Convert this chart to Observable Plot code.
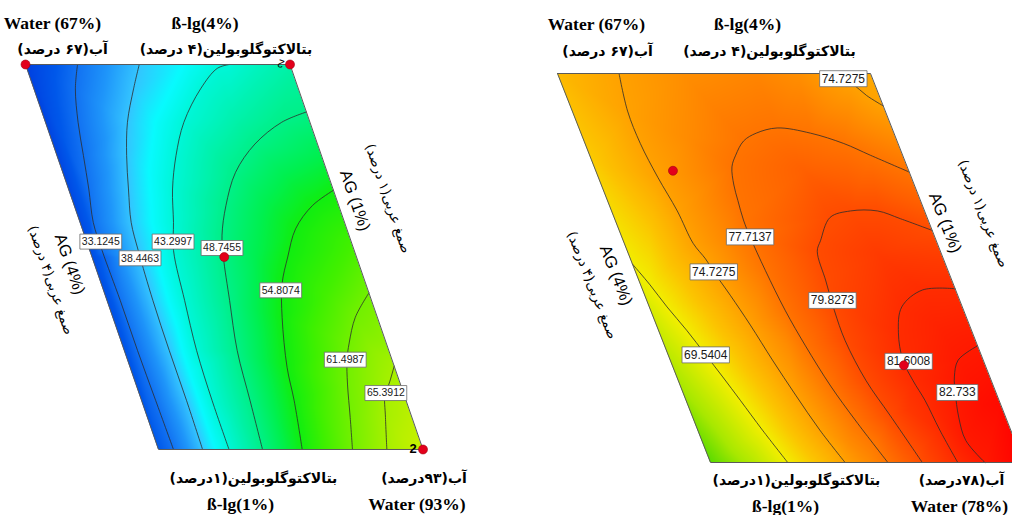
<!DOCTYPE html>
<html>
<head>
<meta charset="utf-8">
<script src="https://cdn.jsdelivr.net/npm/d3@7"></script>
<script src="https://cdn.jsdelivr.net/npm/@observablehq/plot@0.6"></script>
<style>
  html, body { margin: 0; padding: 0; background: #fff; }
  #chart { display: flex; width: 1012px; height: 515px; overflow: hidden; }
  #chart svg { flex: none; }
</style>
</head>
<body>
<div id="chart"></div>
<script>
// ================= LEFT PANEL (Water 67–93 %) — points are [AG %, β-lg %] =================
const leftLevels = [33.1245, 38.4463, 43.2997, 48.7455, 54.8074, 61.4987, 65.3912];
const left33 = [[3.41,4.00],[3.53,3.81],[3.63,3.55],[3.70,3.29],[3.77,3.03],[3.85,2.77],[3.86,2.55],[3.85,2.16],[3.85,1.77],[3.84,1.38],[3.83,1.00]];
const left38 = [[2.71,4.00],[2.87,3.81],[3.07,3.55],[3.21,3.29],[3.32,3.03],[3.42,2.77],[3.45,2.55],[3.48,2.16],[3.49,1.77],[3.49,1.38],[3.50,1.00]];
const left43 = [[1.69,4.00],[1.84,3.97],[2.11,3.81],[2.43,3.55],[2.65,3.29],[2.82,3.03],[2.94,2.77],[3.05,2.55],[3.12,2.16],[3.18,1.77],[3.20,1.38],[3.20,1.00]];
const left48 = [[1.00,3.63],[1.32,3.55],[1.71,3.38],[2.04,3.16],[2.28,2.90],[2.44,2.67],[2.51,2.50],[2.61,2.16],[2.72,1.77],[2.77,1.38],[2.82,1.00]];
const left54 = [[1.00,3.02],[1.30,2.90],[1.58,2.72],[1.78,2.50],[1.95,2.29],[2.08,2.03],[2.22,1.64],[2.27,1.38],[2.37,1.00]];
const left61 = [[1.00,2.22],[1.25,2.03],[1.42,1.83],[1.51,1.70],[1.60,1.51],[1.70,1.25],[1.80,1.00]];
const left65 = [[1.00,1.65],[1.13,1.51],[1.21,1.44],[1.30,1.25],[1.41,1.00]];
const leftLabelAt = [[3.84,2.62],[3.46,2.49],[3.02,2.62],[2.49,2.57],[1.99,2.24],[1.53,1.70],[1.20,1.44]];
// response read at the edges / between contours: [AG, β-lg, value]
const leftEdgeValues = [[4,4,28.0],[4,2.5,29.6],[4,1,31.0],[3.06,4,35.8],[2.2,4,40.9],[1.35,4,45.0],[1,4,46.5],
  [1,3.3,51.8],[1,2.6,58.2],[1,1.8,64.0],[1,1.3,66.7],[1,1,67.8],[3.35,1,40.9]];
const leftInnerValues = [[3.655,2.5,35.8],[3.67,1.4,35.8],[3.26,2.5,40.9],[2.75,3.55,40.9],[3.34,1.6,40.9],
  [2.78,2.5,46.0],[1.85,3.6,46.0],[2.99,1.3,46.0],[2.145,2.5,51.8],[2.535,1.3,51.8],
  [1.5,2.2,58.2],[2.0,1.3,58.2],[1.42,1.4,63.4],[1.2,1.8,63.4],[1.2,1.1,66.6]];
const leftDesignPoints = [[4,4],[1,4],[2.5,2.5],[1,1]];
const leftVertexLabels = ["Water (67%)", "ß-lg(4%)", "ß-lg(1%)", "Water (93%)"];
const leftVertexLabelsFa = ["آب(۶۷ درصد)", "بتالاکتوگلوبولین(۴ درصد)", "بتالاکتوگلوبولین(۱درصد)", "آب(۹۳درصد)"];
const leftEdgeLabels = ["AG (4%)", "AG (1%)"];
const leftEdgeLabelsFa = ["صمغ عربی(۴ درصد)", "صمغ عربی(۱ درصد)"];
const leftColorStops = [28, 31, 33.1, 35.8, 38.4, 40.8, 43.3, 46, 48.7, 51.8, 54.8, 58, 61.5, 65.4, 68];
const leftColors = ["#0040e0","#0058ea","#1272f2","#1f96fa","#34c4ff","#08fafe","#00f6d8","#00f2b0","#00f088","#00f050","#10ee10","#40f000","#72f000","#a6f000","#ccf000"];

// ================= RIGHT PANEL (Water 67–78 %) =================
const rightLevels = [69.5404, 74.7275, 74.7275, 77.7137, 79.8273, 81.6008, 82.733];
const right69 = [[4.00,2.53],[3.91,2.37],[3.83,2.20],[3.73,2.02],[3.64,1.83],[3.56,1.66],[3.48,1.48],[3.38,1.25],[3.26,1.00]];
const right74a = [[3.41,4.00],[3.47,3.71],[3.47,3.46],[3.43,3.20],[3.37,2.94],[3.34,2.69],[3.28,2.57],[3.25,2.47],[3.18,2.29],[3.10,2.06],[3.02,1.79],[2.93,1.52],[2.83,1.25],[2.71,1.00]];
const right74b = [[1.33,4.00],[1.21,3.92],[1.12,3.83],[1.00,3.75]];
const right77 = [[1.00,3.24],[1.31,3.37],[1.52,3.46],[1.80,3.54],[2.10,3.58],[2.32,3.54],[2.47,3.48],[2.60,3.37],[2.68,3.28],[2.73,3.14],[2.75,3.02],[2.77,2.87],[2.77,2.74],[2.75,2.48],[2.71,2.17],[2.65,1.90],[2.56,1.59],[2.45,1.32],[2.30,1.00]];
const right79 = [[1.00,2.79],[1.26,2.88],[1.45,2.94],[1.71,2.94],[1.93,2.89],[2.11,2.71],[2.18,2.63],[2.21,2.40],[2.24,2.17],[2.25,1.94],[2.20,1.63],[2.10,1.36],[1.97,1.00]];
const right81 = [[1.00,2.34],[1.32,2.33],[1.58,2.20],[1.71,2.00],[1.77,1.79],[1.75,1.63],[1.71,1.48],[1.68,1.25],[1.63,1.00]];
const right82 = [[1.00,1.90],[1.24,1.79],[1.34,1.66],[1.39,1.54],[1.45,1.35],[1.47,1.17],[1.37,1.00]];
const rightLabelAt = [[3.64,1.83],[3.25,2.47],[1.28,3.96],[2.77,2.74],[2.22,2.25],[1.72,1.78],[1.37,1.54]];
const rightEdgeValues = [[4,4,72.8],[4,3.3,71.5],[4,1.8,67.2],[4,1,64.5],[3.6,1,67.0],[2.98,1,72.1],[2.5,1,76.2],
  [2.13,1,78.8],[1.8,1,80.7],[1.5,1,82.2],[1,1,84.2],[1,1.45,83.6],[1,2.12,82.2],[1,2.55,80.8],[1,3.0,78.8],
  [1,3.5,76.2],[1,4,74.0],[1.7,4,76.0],[2.1,4,76.6],[2.8,4,76.0]];
const rightInnerValues = [[3.7,2.8,71.8],[3.2,1.5,72.1],[3.0,3.5,76.2],[3.05,2.7,76.2],[2.82,1.9,76.2],[2.6,1.15,76.2],
  [2.0,3.25,78.8],[1.2,3.05,78.9],[2.47,2.3,78.8],[2.38,1.6,78.8],[1.6,2.6,80.8],[1.95,2.1,80.8],[1.91,1.4,80.9],
  [1.3,2.05,82.2],[1.57,1.3,82.2],[1.15,1.45,83.4]];
const rightDesignPoints = [[3.26,3.25],[1.78,1.75]];
const rightVertexLabels = ["Water (67%)", "ß-lg(4%)", "ß-lg(1%)", "Water (78%)"];
const rightVertexLabelsFa = ["آب(۶۷ درصد)", "بتالاکتوگلوبولین(۴ درصد)", "بتالاکتوگلوبولین(۱درصد)", "آب(۷۸درصد)"];
const rightEdgeLabels = ["AG (4%)", "AG (1%)"];
const rightEdgeLabelsFa = ["صمغ عربی(۴ درصد)", "صمغ عربی(۱ درصد)"];
const rightColorStops = [64, 66.5, 69.5, 72, 74.7, 76.3, 77.7, 78.8, 79.8, 80.8, 81.6, 82.7, 84.2];
const rightColors = ["#46d800","#a8e800","#f2ee00","#fcc400","#ffa200","#ff8a00","#ff7400","#ff6000","#ff4c00","#ff3a00","#ff2c00","#ff1a00","#ff0000"];

// ================= drawing =================
const SERIF = "'Liberation Serif', 'Times New Roman', serif";
const SANS = "'Liberation Sans', Arial, sans-serif";
const FA = "'DejaVu Sans', sans-serif";

function boxSymbol(w, h) {
  return {draw(ctx) { ctx.moveTo(-w/2, -h/2); ctx.lineTo(w/2, -h/2); ctx.lineTo(w/2, h/2); ctx.lineTo(-w/2, h/2); ctx.closePath(); }};
}

function makePanel(cfg) {
  const k = cfg.skew;
  const P = (ag, b) => ({x: (4 - ag) + k * (4 - b), y: b});
  const lineRows = cfg.lines.flatMap((pts, i) => pts.map(([ag, b]) => ({...P(ag, b), id: i})));
  const samples = [
    ...cfg.lines.flatMap((pts, i) => pts.map(([ag, b]) => ({...P(ag, b), v: cfg.levels[i]}))),
    ...cfg.values.map(([ag, b, v]) => ({...P(ag, b), v}))
  ];
  const [xa, xb] = cfg.xDomain, [ya, yb] = cfg.yDomain;
  const maskL = [ya - 1, yb + 1].map(y => ({y, a: xa - 2, b: k * (4 - y)}));
  const maskR = [ya - 1, yb + 1].map(y => ({y, a: 3 + k * (4 - y), b: xb + 2}));
  const bands = [{x1: xa - 2, x2: xb + 2, y1: 4, y2: yb + 1}, {x1: xa - 2, x2: xb + 2, y1: ya - 1, y2: 1}];
  const outline = [[4,4],[1,4],[1,1],[4,1],[4,4]].map(([ag, b]) => P(ag, b));
  const labels = cfg.labelAt.map(([ag, b], i) => ({...P(ag, b), text: String(cfg.levels[i])}));
  const boxes = labels.map(d => Plot.dot([d], {x: "x", y: "y",
    symbol: boxSymbol(d.text.length * cfg.charW + 4, cfg.boxH), fill: "white", stroke: "#6a6a6a", strokeWidth: 0.8}));
  const texts = cfg.texts.map(t => Plot.text([{...P(t.at[0], t.at[1]), s: t.s}], {
    x: "x", y: "y", text: "s", dx: t.dx, dy: t.dy, rotate: t.rotate || 0,
    fontSize: t.size, fontFamily: t.font, fontWeight: t.weight || "normal", fill: "#000", textAnchor: "middle"
  }));
  const svg = Plot.plot({
    width: 506, height: 515, margin: 0,
    x: {domain: cfg.xDomain, axis: null},
    y: {domain: cfg.yDomain, axis: null},
    color: {type: "linear", domain: cfg.colorStops, range: cfg.colors, interpolate: "rgb", clamp: true},
    style: {background: "white", overflow: "hidden"},
    marks: [
      Plot.raster(samples, {x: "x", y: "y", fill: "v", interpolate: "barycentric"}),
      Plot.areaX(maskL, {y: "y", x1: "a", x2: "b", fill: "white"}),
      Plot.areaX(maskR, {y: "y", x1: "a", x2: "b", fill: "white"}),
      Plot.rect(bands, {x1: "x1", x2: "x2", y1: "y1", y2: "y2", fill: "white"}),
      Plot.line(lineRows, {x: "x", y: "y", z: "id", curve: "catmull-rom", stroke: "#2c2c2c", strokeWidth: 0.8}),
      Plot.line(outline, {x: "x", y: "y", stroke: "#5a5a5a", strokeWidth: 1}),
      ...boxes,
      Plot.text(labels, {x: "x", y: "y", text: "text", fontSize: cfg.labelSize, fontFamily: SANS, fill: "#1a1a1a"}),
      Plot.dot(cfg.dots.map(([ag, b]) => P(ag, b)), {x: "x", y: "y", r: 4.5, fill: "#e3001b", stroke: "#a00010", strokeWidth: 0.6}),
      ...texts
    ]
  });
  svg.querySelectorAll("text").forEach(t => {
    if (/[\u0600-\u06FF]/.test(t.textContent)) { t.setAttribute("direction", "rtl"); t.style.unicodeBidi = "embed"; }
  });
  return svg;
}

const left = makePanel({
  skew: 0.5028, xDomain: [-0.2836, 5.4554], yDomain: [0.4857, 4.4987],
  levels: leftLevels, lines: [left33, left38, left43, left48, left54, left61, left65],
  labelAt: leftLabelAt, values: [...leftEdgeValues, ...leftInnerValues], dots: leftDesignPoints,
  colorStops: leftColorStops, colors: leftColors, labelSize: 10.5, charW: 5.4, boxH: 15,
  texts: [
    {at: [4,4], s: leftVertexLabels[0], dx: 27, dy: -41, size: 17.5, font: SERIF, weight: "bold"},
    {at: [4,4], s: leftVertexLabelsFa[0], dx: 37, dy: -15, size: 14, font: FA, weight: "bold"},
    {at: [1,4], s: leftVertexLabels[1], dx: -85, dy: -41, size: 17.5, font: SERIF, weight: "bold"},
    {at: [1,4], s: leftVertexLabelsFa[1], dx: -64, dy: -15, size: 14, font: FA, weight: "bold"},
    {at: [4,1], s: leftVertexLabels[2], dx: 82, dy: 55, size: 17.5, font: SERIF, weight: "bold"},
    {at: [4,1], s: leftVertexLabelsFa[2], dx: 95, dy: 29, size: 14, font: FA, weight: "bold"},
    {at: [1,1], s: leftVertexLabels[3], dx: -6, dy: 55, size: 17.5, font: SERIF, weight: "bold"},
    {at: [1,1], s: leftVertexLabelsFa[3], dx: 1, dy: 29, size: 14, font: FA, weight: "bold"},
    {at: [1,1], s: "2", dx: -10, dy: -1, size: 13, font: SANS, weight: "bold"},
    {at: [1,4], s: "2", dx: -9, dy: -1, size: 11, font: SANS, rotate: 200},
    {at: [4,2.46], s: leftEdgeLabels[0], dx: -24, dy: 2, size: 16.5, font: SANS, rotate: 71},
    {at: [4,2.46], s: leftEdgeLabelsFa[0], dx: -43, dy: 18, size: 13.5, font: FA, rotate: 71},
    {at: [1,2.94], s: leftEdgeLabels[1], dx: 18, dy: 0, size: 16.5, font: SANS, rotate: 71},
    {at: [1,2.94], s: leftEdgeLabelsFa[1], dx: 51, dy: -2, size: 13.5, font: FA, rotate: 71}
  ]
});

const right = makePanel({
  skew: 0.4888, xDomain: [-0.4888, 4.3610], yDomain: [0.5913, 4.5630],
  levels: rightLevels, lines: [right69, right74a, right74b, right77, right79, right81, right82],
  labelAt: rightLabelAt, values: [...rightEdgeValues, ...rightInnerValues], dots: rightDesignPoints,
  colorStops: rightColorStops, colors: rightColors, labelSize: 12, charW: 6.2, boxH: 16,
  texts: [
    {at: [4,4], s: rightVertexLabels[0], dx: 39, dy: -49, size: 17.5, font: SERIF, weight: "bold"},
    {at: [4,4], s: rightVertexLabelsFa[0], dx: 50, dy: -22, size: 14, font: FA, weight: "bold"},
    {at: [1,4], s: rightVertexLabels[1], dx: -123, dy: -49, size: 17.5, font: SERIF, weight: "bold"},
    {at: [1,4], s: rightVertexLabelsFa[1], dx: -101, dy: -22, size: 14, font: FA, weight: "bold"},
    {at: [4,1], s: rightVertexLabels[2], dx: 75, dy: 44, size: 17.5, font: SERIF, weight: "bold"},
    {at: [4,1], s: rightVertexLabelsFa[2], dx: 86, dy: 18, size: 14, font: FA, weight: "bold"},
    {at: [1,1], s: rightVertexLabels[3], dx: -64, dy: 44, size: 17.5, font: SERIF, weight: "bold"},
    {at: [1,1], s: rightVertexLabelsFa[3], dx: -62, dy: 18, size: 14, font: FA, weight: "bold"},
    {at: [4,2.46], s: rightEdgeLabels[0], dx: -20, dy: 2, size: 16.5, font: SANS, rotate: 68.5},
    {at: [4,2.46], s: rightEdgeLabelsFa[0], dx: -44, dy: 12, size: 13.5, font: FA, rotate: 68.5},
    {at: [1,2.85], s: rightEdgeLabels[1], dx: 16, dy: 0, size: 16.5, font: SANS, rotate: 68.5},
    {at: [1,2.85], s: rightEdgeLabelsFa[1], dx: 54, dy: -9, size: 13.5, font: FA, rotate: 68.5}
  ]
});

document.getElementById("chart").append(left, right);
</script>
</body>
</html>
